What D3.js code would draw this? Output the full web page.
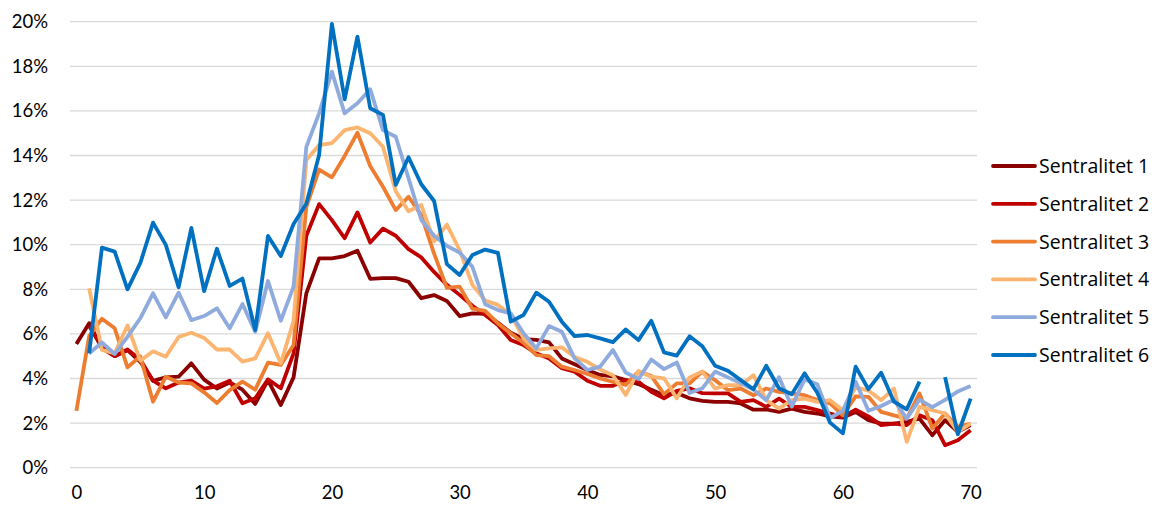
<!DOCTYPE html>
<html>
<head>
<meta charset="utf-8">
<script src="https://cdn.jsdelivr.net/npm/d3@7"></script>
<style>
  html, body { margin: 0; padding: 0; background: #fff; }
  svg { display: block; }
</style>
</head>
<body>
<svg id="chart" width="1157" height="507"></svg>
<script>
// ---------- data (values in percent) ----------
const categories = d3.range(0, 71);
const xTickLabels = [0, 10, 20, 30, 40, 50, 60, 70];
const yTickLabels = [0, 2, 4, 6, 8, 10, 12, 14, 16, 18, 20];
const seriesNames = ["Sentralitet 1", "Sentralitet 2", "Sentralitet 3", "Sentralitet 4", "Sentralitet 5", "Sentralitet 6"];

const s1 = [5.55, 6.48, 5.35, 5.0, 5.27, 4.75, 3.9, 4.05, 4.08, 4.68, 3.95, 3.55, 3.82, 3.5, 2.86, 3.93, 2.81, 4.05, 7.82, 9.39,
  9.39, 9.49, 9.73, 8.47, 8.5, 8.5, 8.34, 7.6, 7.74, 7.48, 6.8, 6.92, 6.9, 6.5, 6.05, 5.77, 5.73, 5.62, 4.9, 4.64,
  4.38, 4.16, 4.1, 3.93, 3.75, 3.5, 3.25, 3.35, 3.11, 3.0, 2.95, 2.95, 2.88, 2.6, 2.61, 2.5, 2.65, 2.5, 2.43, 2.3,
  2.25, 2.5, 2.13, 1.98, 1.98, 2.06, 2.2, 1.46, 2.13, 1.61, 1.91];
const s2 = [null, 6.35, 5.4, 5.0, 5.3, 4.85, 3.9, 3.56, 3.82, 3.9, 3.55, 3.65, 3.9, 2.89, 3.11, 3.96, 3.56, 5.13, 10.4, 11.82,
  11.1, 10.29, 11.45, 10.1, 10.72, 10.4, 9.8, 9.43, 8.78, 8.2, 7.75, 7.26, 6.85, 6.4, 5.73, 5.5, 5.13, 4.9, 4.46, 4.31,
  3.9, 3.67, 3.67, 3.93, 3.86, 3.4, 3.11, 3.45, 3.56, 3.34, 3.33, 3.33, 2.95, 3.03, 2.73, 3.1, 2.73, 2.73, 2.58, 2.43,
  2.28, 2.6, 2.3, 1.91, 1.98, 1.91, 2.35, 2.13, 1.01, 1.23, 1.68];
const s3 = [2.55, 5.9, 6.68, 6.25, 4.5, 5.0, 2.96, 4.08, 3.82, 3.78, 3.38, 2.9, 3.48, 3.86, 3.5, 4.71, 4.61, 5.5, 11.7, 13.37,
  13.02, 13.98, 15.02, 13.53, 12.6, 11.55, 12.15, 11.33, 9.6, 8.06, 8.12, 7.13, 7.03, 6.47, 6.03, 5.6, 5.05, 5.0, 4.53, 4.38,
  4.2, 4.0, 3.85, 3.71, 4.31, 4.12, 3.3, 3.78, 3.78, 4.31, 3.92, 3.48, 3.55, 3.25, 3.55, 3.4, 3.33, 3.25, 3.03, 2.88,
  2.35, 3.2, 3.18, 2.5, 2.35, 2.2, 3.33, 1.76, 2.43, 1.83, 1.98];
const s4 = [null, 8.04, 5.28, 5.13, 6.38, 4.8, 5.22, 4.98, 5.86, 6.05, 5.82, 5.3, 5.3, 4.76, 4.9, 6.03, 4.68, 6.58, 13.8, 14.47,
  14.55, 15.14, 15.26, 15.0, 14.39, 12.4, 11.5, 11.78, 10.15, 10.9, 9.75, 8.2, 7.5, 7.3, 6.88, 5.8, 5.28, 5.35, 5.4, 4.96,
  4.75, 4.4, 4.15, 3.26, 4.34, 4.08, 4.01, 3.11, 4.05, 4.31, 3.55, 3.7, 3.7, 4.15, 3.03, 2.65, 3.03, 3.1, 2.95, 3.03,
  2.58, 3.6, 3.46, 3.03, 3.55, 1.16, 2.73, 2.58, 2.43, 1.61, 1.98];
const s5 = [null, 5.12, 5.62, 5.1, 5.87, 6.7, 7.82, 6.74, 7.85, 6.62, 6.8, 7.15, 6.25, 7.34, 6.1, 8.37, 6.59, 8.12, 14.39, 15.89,
  17.76, 15.89, 16.34, 16.97, 15.14, 14.84, 12.98, 11.11, 10.4, 9.95, 9.65, 9.01, 7.33, 7.07, 6.92, 6.03, 5.35, 6.35, 6.1, 4.9,
  4.38, 4.53, 5.28, 4.27, 3.97, 4.85, 4.42, 4.72, 3.35, 3.56, 4.31, 4.05, 3.8, 3.5, 3.03, 4.06, 2.74, 3.96, 3.74, 2.23,
  2.55, 3.85, 2.55, 2.77, 3.05, 2.2, 3.05, 2.72, 3.04, 3.42, 3.66];
const s6 = [null, 5.13, 9.87, 9.69, 8.0, 9.17, 10.99, 9.99, 8.09, 10.75, 7.92, 9.82, 8.15, 8.48, 6.17, 10.39, 9.49, 10.93, 11.84, 14.02,
  19.9, 16.52, 19.33, 16.12, 15.82, 12.68, 13.92, 12.71, 11.96, 9.13, 8.64, 9.54, 9.78, 9.63, 6.55, 6.85, 7.85, 7.44, 6.55, 5.9,
  5.95, 5.8, 5.63, 6.2, 5.72, 6.59, 5.17, 5.03, 5.89, 5.45, 4.57, 4.35, 3.93, 3.52, 4.57, 3.56, 3.29, 4.23, 3.36, 2.02,
  1.54, 4.53, 3.52, 4.26, 2.96, 2.62, 3.86, null, 4.06, 1.5, 3.1];

const seriesValues = [s1, s2, s3, s4, s5, s6];
const colors = ["#8B0000", "#C00000", "#ED7D31", "#FBB570", "#8FAADC", "#0070C0"];

// ---------- layout ----------
const svg = d3.select("#chart");
const plot = { left: 70, right: 977, top: 21.7, bottom: 467.7 };

const x = d3.scalePoint().domain(categories).range([plot.left, plot.right]).padding(0.5);
const y = d3.scaleLinear().domain([0, 20]).range([plot.bottom, plot.top]);

// gridlines
svg.append("g")
  .selectAll("line")
  .data(yTickLabels)
  .join("line")
  .attr("x1", plot.left).attr("x2", plot.right)
  .attr("y1", d => y(d)).attr("y2", d => y(d))
  .attr("stroke", "#D9D9D9").attr("stroke-width", 1.3);

const axisFont = "Lato, 'Open Sans', sans-serif";

// y axis labels
const yAxis = d3.axisLeft(y).tickValues(yTickLabels).tickFormat(d => d + "%").tickSize(0).tickPadding(0);
const gy = svg.append("g").attr("transform", `translate(48,0)`).call(yAxis);
gy.select(".domain").remove();
gy.selectAll("text").style("font-size", "18.5px").style("font-family", axisFont).attr("fill", "#000");

// x axis labels
const xAxis = d3.axisBottom(x).tickValues(xTickLabels).tickSize(0).tickPadding(0);
const gx = svg.append("g").attr("transform", `translate(0,486)`).call(xAxis);
gx.select(".domain").remove();
gx.selectAll("text").style("font-size", "18.5px").style("font-family", axisFont).attr("fill", "#000");

// lines
const line = d3.line()
  .defined(d => d != null)
  .x((d, i) => x(categories[i]))
  .y(d => y(d));

svg.append("g")
  .selectAll("path")
  .data(seriesValues)
  .join("path")
  .attr("d", d => line(d))
  .attr("fill", "none")
  .attr("stroke", (d, i) => colors[i])
  .attr("stroke-width", 3.8)
  .attr("stroke-linejoin", "round")
  .attr("stroke-linecap", "butt");

// legend
const legend = svg.append("g");
const rows = legend.selectAll("g")
  .data(seriesNames)
  .join("g")
  .attr("transform", (d, i) => `translate(993,${166 + i * 37.8})`);
rows.append("line")
  .attr("x1", 0).attr("x2", 42).attr("y1", 0).attr("y2", 0)
  .attr("stroke", (d, i) => colors[i]).attr("stroke-width", 3.8).attr("stroke-linecap", "round");
rows.append("text")
  .attr("x", 46).attr("y", 0).attr("dy", "0.36em")
  .attr("fill", "#000")
  .style("font-size", "19.5px")
  .style("font-family", "'Open Sans', Lato, sans-serif")
  .text(d => d);
</script>
</body>
</html>
